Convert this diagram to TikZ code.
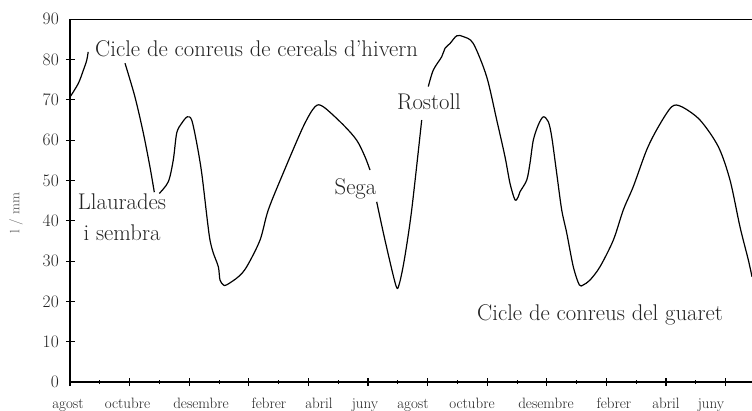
\documentclass[tikz,border=0pt]{standalone}
\usepackage{tikz}
\usetikzlibrary{positioning}
\definecolor{inkgray}{RGB}{35,35,35}
\definecolor{titlegray}{RGB}{95,95,95}
\tikzstyle{axis} = [line width=1.3pt, draw=black]
\tikzstyle{major_tick} = [line width=1.1pt, draw=black]
\tikzstyle{minor_tick} = [line width=1pt, draw=black]
\tikzstyle{curve} = [line width=1.2pt, draw=black, line join=round]
\tikzstyle{month_label} = [anchor=base, inner sep=0pt, text=inkgray, font=\fontsize{15}{18}\selectfont]
\tikzstyle{value_label} = [anchor=east, inner sep=0pt, text=inkgray, font=\fontsize{17.5}{20}\selectfont]
\tikzstyle{phase_label} = [inner sep=0pt, text=inkgray, font=\fontsize{22.7}{27}\selectfont]

\begin{document}
\begin{tikzpicture}[x=29.8pt, y=4.03pt]
        \useasboundingbox (-70pt,-28pt) rectangle (682pt,382pt);
        % Axes ------------------------------------------------------------------------------------
        \draw[axis] (0,90) -- (0,0) -- (22.886,0);
        \draw[axis] (0,90) -- (22.886,90);
        \foreach \v in {10,20,...,80}
            \draw[major_tick] ([xshift=-4pt]0,\v) -- ([xshift=5pt]0,\v);
        \foreach \v in {0,10,...,90}
            \node[value_label](value_\v) at ([xshift=-11pt]0,\v) {\v};
        \node[rotate=90, inner sep=0pt, text=titlegray, font=\fontsize{13.5}{16}\selectfont](y_title) at ([xshift=-54pt]0,41.9) {l / mm};
        % Months ----------------------------------------------------------------------------------
        \foreach \xm in {0,2,...,22}
            \draw[major_tick] ([yshift=-4pt]\xm,0) -- ([yshift=4pt]\xm,0);
        \foreach \xm in {1,3,...,21}
            \draw[minor_tick] ([yshift=-2pt]\xm,0) -- ([yshift=2pt]\xm,0);
        \foreach \m/\px [count=\i] in {agost/-2,octubre/57.5,desembre/131,febrer/199,abril/249,juny/295,
                agost/343,octubre/402,desembre/476,febrer/544,abril/596,juny/641}
            \node[month_label](month_\i) at (\px pt,-26pt) {\m};
        % Curve -----------------------------------------------------------------------------------
        \draw[curve] plot[smooth, tension=0.5] coordinates {(0,70.7) (0.28,74.1) (0.45,77.4) (0.56,79.8) (0.61,81.9)};
        \draw[curve] plot[smooth, tension=0.5] coordinates {(1.846,79.1) (2.181,70.7) (2.460,61.8) (2.685,53.3) (2.829,47.1)};
        \draw[curve] plot[smooth, tension=0.5] coordinates {(2.997,46.8) (3.299,49.7) (3.466,55.1) (3.581,61.8) (3.748,64.2)
            (3.936,65.8) (4.084,65.0) (4.252,59.3) (4.419,51.9) (4.607,40.2) (4.698,35.2) (4.809,32.0) (4.977,28.6)
            (5.034,25.3) (5.144,24.1) (5.258,24.1) (5.648,26.1) (5.930,28.6) (6.376,35.2) (6.654,42.7) (7.158,51.9)
            (7.829,63.4) (8.221,68.3) (8.500,68.3) (9.171,63.8) (9.621,60.0) (9.899,55.9) (10.067,52.6)};
        \draw[curve] plot[smooth, tension=0.5] coordinates {(10.292,44.7) (10.570,35.2) (10.930,24.1) (11.040,24.1)
            (11.218,30.3) (11.466,42.7) (11.802,65.0)};
        \draw[curve] plot[smooth, tension=0.5] coordinates {(12.023,73.3) (12.191,77.4) (12.473,80.7) (12.584,82.8)
            (12.752,84.0) (12.977,85.9) (13.198,85.7) (13.533,84.0) (13.980,75.8) (14.320,65.0)
            (14.597,55.9) (14.765,49.3) (14.933,45.2) (15.044,46.0) (15.101,47.2) (15.326,50.1) (15.436,54.3)
            (15.547,60.0) (15.715,63.8) (15.883,65.8) (16.050,64.6) (16.164,60.9) (16.332,51.8) (16.500,42.7)
            (16.668,37.0) (16.889,28.6) (17.091,24.1) (17.225,24.1) (17.450,25.3) (17.785,28.6) (18.232,35.2)
            (18.567,42.7) (18.903,48.5) (19.352,57.6) (19.742,63.3) (20.191,68.3) (20.527,68.3) (21.141,65.0)
            (21.755,58.4) (22.148,50.1) (22.483,38.5) (22.762,30.3) (22.886,26.1)};
        % Labels ----------------------------------------------------------------------------------
        \node[phase_label, anchor=base west](winter_cycle) at (25pt,325pt) {Cicle de conreus de cereals d'hivern};
        \node[phase_label, anchor=base](llaurades) at (52pt,172pt) {Llaurades};
        \node[phase_label, below=14.3pt of llaurades](sembra) {i sembra};
        \node[phase_label, anchor=base](sega) at (285.5pt,187pt) {Sega};
        \node[phase_label, anchor=base](rostoll) at (359pt,272pt) {Rostoll};
        \node[phase_label, anchor=base west](fallow_cycle) at (407pt,62pt) {Cicle de conreus del guaret};
    \end{tikzpicture}
\end{document}
